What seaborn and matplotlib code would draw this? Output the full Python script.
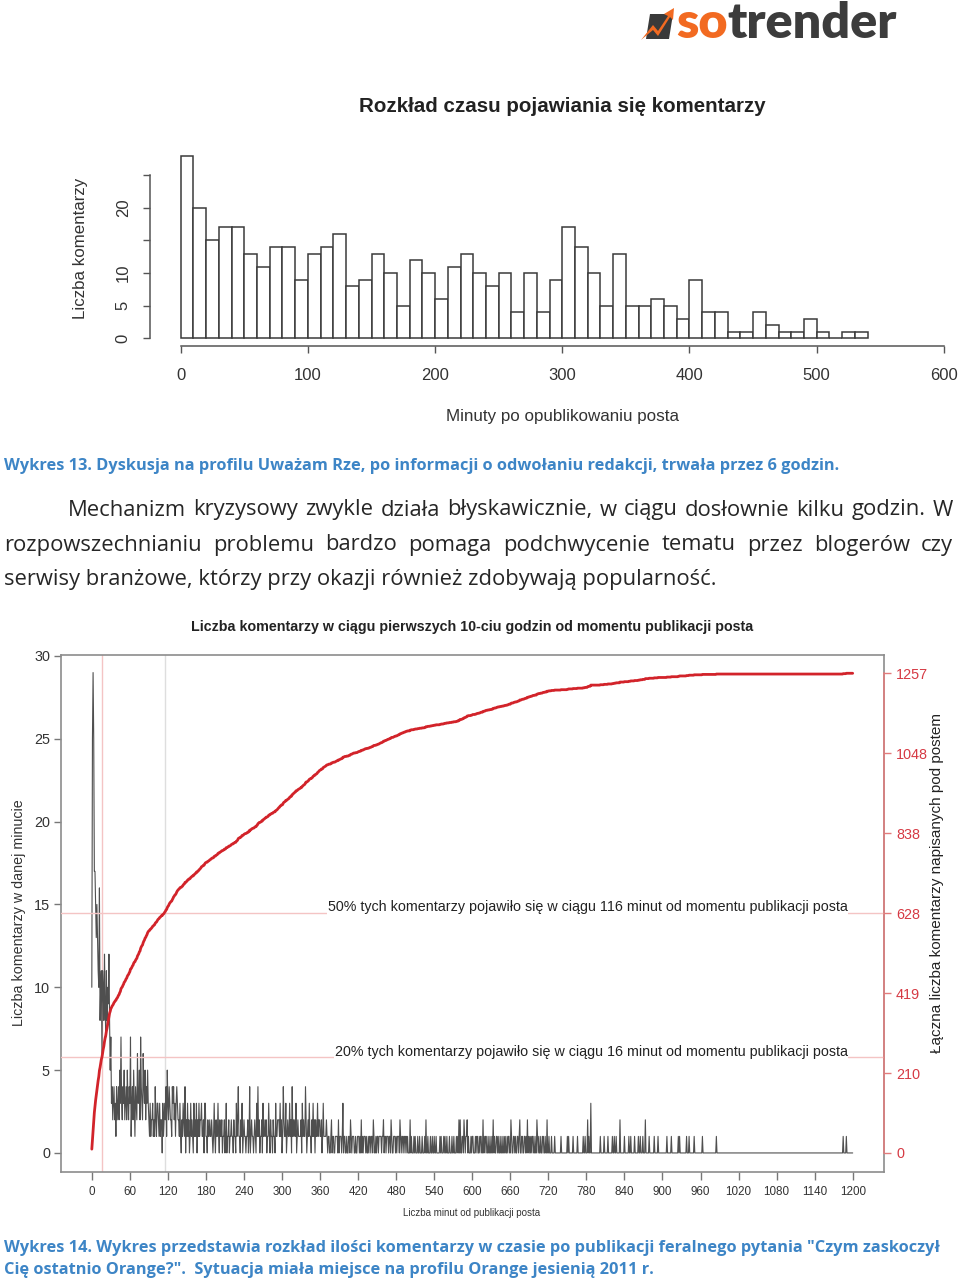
import numpy as np
import pandas as pd
import matplotlib
matplotlib.use("Agg")
import matplotlib.pyplot as plt
import seaborn as sns
from matplotlib import font_manager
from matplotlib.patches import Polygon

sns.set_theme(style="white")
plt.rcParams['font.family'] = ['Liberation Sans', 'DejaVu Sans']

# ---------------- data: Wykres 13 (histogram, 10-minute bins) ----------------
hist_counts = [28, 20, 15, 17, 17, 13, 11, 14, 14, 9,
               13, 14, 16, 8, 9, 13, 10, 5, 12, 10,
               6, 11, 13, 10, 8, 10, 4, 10, 4, 9,
               17, 14, 10, 5, 13, 5, 5, 6, 5, 3,
               9, 4, 4, 1, 1, 4, 2, 1, 1, 3,
               1, 0, 1, 1]
hist_bin_width = 10
hist_xticks = [0, 100, 200, 300, 400, 500, 600]
hist_yticks = [0, 5, 10, 15, 20, 25]
hist_yticklabels = ['0', '5', '10', '', '20', '']

# ---------------- data: Wykres 14 (comments per minute) ----------------
# minutes 0-28
counts_first_minutes = [10, 25, 29, 25, 17, 17, 15, 13, 15, 13, 11, 10, 16, 8, 10, 11, 6,
                        11, 10, 8, 12, 9, 7, 11, 8, 10, 9, 12, 8]
# minutes 29-943, one digit per minute (spaces only for readability)
counts_by_block = [
    "57342 34231 423",
    "42537 32435 23425 3",
    "24371 34253 14326 3",
    "35274 32643 52435 3",
    "21312 23121 42133 21312 20312",
    "32415 32432 21434 23134 32",
    "21310 21321 40213 12013 12103 12130 21312 23",
    "11203 31102 11211 21013 10211 3",
    "10211 20112 01301 12011 21102 11031 24",
    "11021 30121 10112 01401 21101 21031 4",
    "12011 20311 21201 13102 11021 10311 22",
    "21312 01421 13012 11312 04121 21301 21 11",
    "12031 21142 01213 11021 31202 11312 21120 13111 12",
    "10110 01201 10011 11020 11101 30110 01001 10210 11",
    "10010 01110 10201 01110 10010 11011 02100 10110 11",
    "11011 20110 11101 10210 01110 10111 02101 10110 11",
    "01000 20100 01010 00100 10001 00010 20010 00100 10010 01000 00101 00010 10010 00100 01001 00010 1020",
    "20011 02101 12010 00101 10001 01100 10110 02010 11001 00100 10201 00110 10010 01001 0100",
    "10110 02100 11010 01101 20011 00110 10201 01010 11001 00210 10010 01100 10020 01000 10000 1000",
    "00000 01000 00000 01010 00000 10000 00100 00000 01001 00020 10030 00000 00000 000",
    "10000 01000 00100 00001 00100 10000 02000 00010 00000 10010 00001 00000 10010 00100 0200",
    "00010 00000 01000 00100 00000 00000 01000 00010 00000 00001 01000 00000 00100 010",
]
late_comment_minutes = [950, 963, 985, 1185, 1190]
last_minute = 1200

minute_xticks = [0, 60, 120, 180, 240, 300, 360, 420, 480, 540, 600, 660, 720,
                 780, 840, 900, 960, 1020, 1080, 1140, 1200]
minute_yticks = [0, 5, 10, 15, 20, 25, 30]

# ---------------- assemble the per-minute series ----------------
per_minute = list(counts_first_minutes)
for block in counts_by_block:
    per_minute.extend(int(c) for c in block.replace(' ', ''))
per_minute = per_minute + [0] * (last_minute + 1 - len(per_minute))
for m in late_comment_minutes:
    per_minute[m] += 1
per_minute = np.array(per_minute[:last_minute + 1])
minutes = np.arange(len(per_minute))
cumulative = np.cumsum(per_minute)
total = int(cumulative[-1])
right_ticks = [total * k / 6 for k in range(7)]
right_labels = [str(int(round(v))) for v in right_ticks]

# ---------------- figure & helpers ----------------
W, H = 960, 1281
fig = plt.figure(figsize=(W / 100, H / 100), dpi=100)
fig.patch.set_facecolor('white')
renderer = fig.canvas.get_renderer()

names = {f.name for f in font_manager.fontManager.ttflist}
NARROW = 'Liberation Sans Narrow' if 'Liberation Sans Narrow' in names else 'Liberation Sans'
OPEN = 'Open Sans' if 'Open Sans' in names else 'DejaVu Sans'
LOGO = 'Lato' if 'Lato' in names else 'Liberation Sans'


def fx(x):
    return x / W


def fy(y):
    return 1 - y / H


def add_ax(l, t, r, b):
    return fig.add_axes([l / W, 1 - b / H, (r - l) / W, (b - t) / H])


def measure(s, size, **kw):
    t = fig.text(0, 0, s, fontsize=size, **kw)
    w = t.get_window_extent(renderer).width
    t.remove()
    return w


def fit_size(s, width, **kw):
    return 20.0 * width / measure(s, 20, **kw)


def justify(line, x0, x1, y, size, **kw):
    words = line.split(' ')
    widths = [measure(w, size, **kw) for w in words]
    gap = (x1 - x0 - sum(widths)) / (len(words) - 1)
    x = x0
    for w, wd in zip(words, widths):
        fig.text(fx(x), fy(y), w, fontsize=size, ha='left', va='center', **kw)
        x += wd + gap


# ---------------- logo ----------------
logo_kw = dict(family=LOGO, fontweight='heavy')
ls = fit_size('sotrender', 222, **logo_kw)
w_so = measure('so', ls, **logo_kw)
fig.text(fx(676), fy(24), 'so', fontsize=ls, color='#f26a21', ha='left', va='center', **logo_kw)
fig.text(fx(676 + w_so), fy(24), 'trender', fontsize=ls, color='#3c3c3c', ha='left', va='center', **logo_kw)
fig.patches.append(Polygon([(650, H - 14), (673, H - 14), (669, H - 39), (646, H - 39)],
                           closed=True, transform=None, facecolor='#3a3a3a', edgecolor='none'))
fig.patches.append(Polygon([(641, H - 40), (653, H - 25), (658, H - 31), (668, H - 16),
                            (664, H - 14), (674, H - 8), (673, H - 20), (670, H - 17),
                            (658, H - 36), (653, H - 30)],
                           closed=True, transform=None, facecolor='#f26a21', edgecolor='none'))

# ---------------- chart 1: histogram ----------------
ax1 = add_ax(150.2, 148.4, 974.4, 345.6)
edges = [hist_bin_width * i for i in range(len(hist_counts) + 1)]
hist_df = pd.DataFrame({'minute': [e + hist_bin_width / 2 for e in edges[:-1]],
                        'count': hist_counts})
sns.histplot(data=hist_df, x='minute', weights='count', bins=edges, ax=ax1, color='white',
             edgecolor='#3a3a3a', linewidth=1.1, alpha=1)
ax1.set_xlim(-24, 624)
ax1.set_ylim(-1.12, 29.12)
ax1.set_facecolor('none')
for s in ['top', 'right']:
    ax1.spines[s].set_visible(False)
ax1.spines['left'].set_bounds(0, 25)
ax1.spines['bottom'].set_bounds(0, 600)
for s in ['left', 'bottom']:
    ax1.spines[s].set_color('#555555')
    ax1.spines[s].set_linewidth(1.1)
ax1.set_xticks(hist_xticks)
ax1.set_xticklabels([str(v) for v in hist_xticks])
ax1.set_yticks(hist_yticks)
ax1.set_yticklabels(hist_yticklabels)
ax1.tick_params(axis='both', which='both', direction='out', length=5, width=1.0,
                color='#555555', labelsize=12, labelcolor='#333333',
                bottom=True, left=True)
ax1.tick_params(axis='x', pad=11)
ax1.tick_params(axis='y', pad=9, labelrotation=90)
for lab in ax1.get_yticklabels():
    lab.set_va('center')
ax1.set_xlabel('')
ax1.set_ylabel('')
ax1.grid(False)

t1 = 'Rozkład czasu pojawiania się komentarzy'
fig.text(fx(562), fy(107), t1, fontsize=fit_size(t1, 405, fontweight='bold'),
         fontweight='bold', ha='center', va='center', color='#222222')
yl1 = 'Liczba komentarzy'
fig.text(fx(80), fy(248), yl1, fontsize=fit_size(yl1, 140), rotation=90,
         ha='center', va='center', color='#333333')
xl1 = 'Minuty po opublikowaniu posta'
fig.text(fx(562), fy(416), xl1, fontsize=fit_size(xl1, 232),
         ha='center', va='center', color='#333333')

# ---------------- caption 13 and paragraph ----------------
BLUE = '#3d85c6'
cap_kw = dict(family=OPEN, fontweight='bold')
c13 = 'Wykres 13. Dyskusja na profilu Uważam Rze, po informacji o odwołaniu redakcji, trwała przez 6 godzin.'
cap_size = fit_size(c13, 834, **cap_kw)
fig.text(fx(4), fy(466), c13, fontsize=cap_size, color=BLUE, ha='left', va='center', **cap_kw)

par_kw = dict(family=OPEN, color='#262626')
p3 = 'serwisy branżowe, którzy przy okazji również zdobywają popularność.'
par_size = fit_size(p3, 710, **par_kw)
justify('Mechanizm kryzysowy zwykle działa błyskawicznie, w ciągu dosłownie kilku godzin. W',
        68, 953, 510, par_size, **par_kw)
justify('rozpowszechnianiu problemu bardzo pomaga podchwycenie tematu przez blogerów czy',
        4, 953, 545, par_size, **par_kw)
fig.text(fx(4), fy(579), p3, fontsize=par_size, ha='left', va='center', **par_kw)

# ---------------- chart 2: per-minute comments + cumulative ----------------
ax = add_ax(61, 655, 883.5, 1172)
ax.set_facecolor('white')
ax.axvline(16, color='#f4c4c4', lw=1.0, zorder=1)
ax.axvline(116, color='#dedede', lw=1.0, zorder=1)
sns.lineplot(x=minutes, y=per_minute, ax=ax, color='#4f4f4f', linewidth=0.8,
             estimator=None, zorder=2)
ax.set_xlim(-48.6, 1248.6)
ax.set_ylim(-1.15, 30.06)
for s in ax.spines.values():
    s.set_visible(True)
    s.set_color('#8c8c8c')
    s.set_linewidth(1.2)
ax.set_xticks(minute_xticks)
ax.set_xticklabels([str(v) for v in minute_xticks])
ax.set_yticks(minute_yticks)
ax.set_yticklabels([str(v) for v in minute_yticks])
xt_size = fit_size('1200', 26, family=NARROW)
yt_size = fit_size('25', 16, family=NARROW)
ax.tick_params(axis='x', direction='out', length=6, width=1.0, color='#777777', pad=4,
               labelsize=xt_size, labelcolor='#333333', labelfontfamily=NARROW, bottom=True)
ax.tick_params(axis='y', direction='out', length=5, width=1.0, color='#777777', pad=3,
               labelsize=yt_size, labelcolor='#333333', labelfontfamily=NARROW, left=True)
ax.set_xlabel('')
ax.set_ylabel('')
ax.grid(False)

K = 43.41
ax2 = ax.twinx()
ax2.set_ylim(-1.15 * K, 30.06 * K)
ax2.axhline(total * 0.5, color='#f4c4c4', lw=1.0, zorder=1)
ax2.axhline(total * 0.2, color='#f4c4c4', lw=1.0, zorder=1)
sns.lineplot(x=minutes, y=cumulative, ax=ax2, color='#d2232a', linewidth=2.0,
             estimator=None, zorder=3)
for s in ['top', 'left', 'bottom']:
    ax2.spines[s].set_visible(False)
ax2.spines['right'].set_color('#e37b7b')
ax2.spines['right'].set_linewidth(1.1)
ax2.spines['right'].set_bounds(0, total)
ax2.set_yticks(right_ticks)
ax2.set_yticklabels(right_labels)
rt_size = fit_size('1048', 32, family=NARROW)
ax2.tick_params(axis='y', direction='out', length=5, width=1.0, color='#e37b7b', pad=4,
                labelsize=rt_size, labelcolor='#d63a44', labelfontfamily=NARROW, right=True)
ax2.set_ylabel('')
ax2.set_xlabel('')
ax2.grid(False)

a50 = '50% tych komentarzy pojawiło się w ciągu 116 minut od momentu publikacji posta'
a20 = '20% tych komentarzy pojawiło się w ciągu 16 minut od momentu publikacji posta'
a_size = fit_size(a50, 516, family=NARROW)
y50 = (1153 - 907) * total / 480.0
y20 = (1153 - 1052) * total / 480.0
for txt, yy in [(a50, y50), (a20, y20)]:
    ax2.text(1192, yy, txt, fontsize=a_size, family=NARROW, ha='right', va='center',
             color='#222222', zorder=4,
             bbox=dict(facecolor='white', edgecolor='none', pad=0.5))

t2 = 'Liczba komentarzy w ciągu pierwszych 10-ciu godzin od momentu publikacji posta'
fig.text(fx(472), fy(627), t2, fontsize=fit_size(t2, 559, family=NARROW, fontweight='bold'),
         family=NARROW, fontweight='bold', ha='center', va='center', color='#222222')
yl2 = 'Liczba komentarzy w danej minucie'
fig.text(fx(19), fy(913), yl2, fontsize=fit_size(yl2, 225, family=NARROW), family=NARROW,
         rotation=90, ha='center', va='center', color='#333333')
yr2 = 'Łączna liczba komentarzy napisanych pod postem'
fig.text(fx(937), fy(883), yr2, fontsize=fit_size(yr2, 340, family=NARROW), family=NARROW,
         rotation=90, ha='center', va='center', color='#222222')
xl2 = 'Liczba minut od publikacji posta'
fig.text(fx(472), fy(1213), xl2, fontsize=fit_size(xl2, 137, family=NARROW), family=NARROW,
         ha='center', va='center', color='#333333')

# ---------------- caption 14 ----------------
c14a = 'Wykres 14. Wykres przedstawia rozkład ilości komentarzy w czasie po publikacji feralnego pytania "Czym zaskoczył'
c14b = 'Cię ostatnio Orange?".  Sytuacja miała miejsce na profilu Orange jesienią 2011 r.'
c14_size = fit_size(c14b, 649, **cap_kw)
fig.text(fx(4), fy(1248), c14a, fontsize=c14_size, color=BLUE, ha='left', va='center', **cap_kw)
fig.text(fx(4), fy(1270), c14b, fontsize=c14_size, color=BLUE, ha='left', va='center', **cap_kw)

fig.savefig('out.png', dpi=100, facecolor='white')
